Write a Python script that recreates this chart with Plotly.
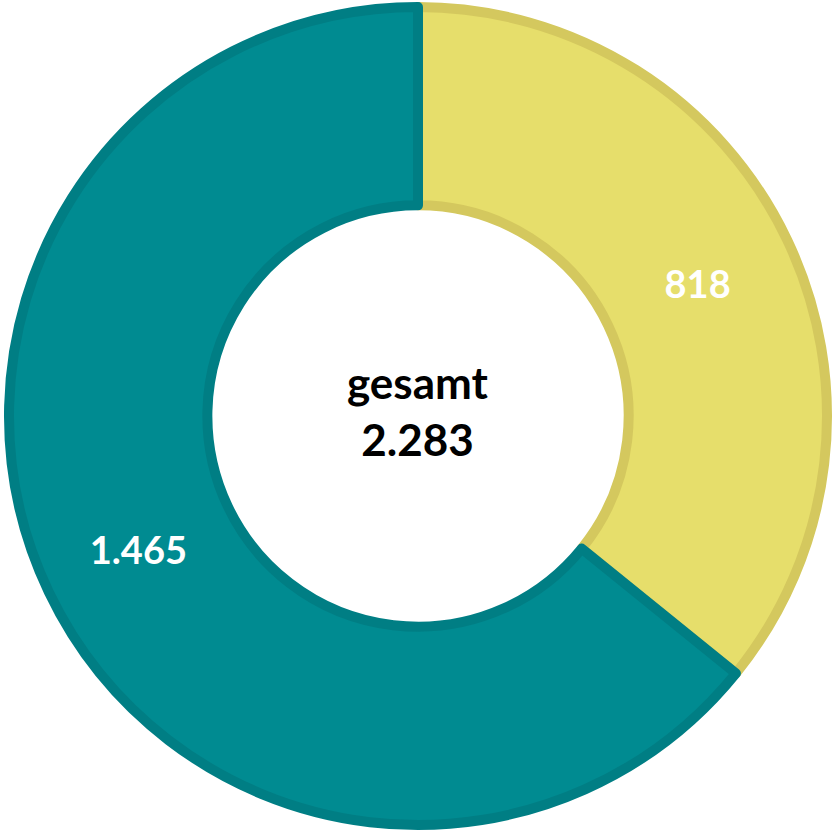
"""Donut chart: gesamt 2.283."""

import plotly.graph_objects as go

labels = ["A", "B"]
values = [818, 1465]
fill_colors = ["#E6DE6B", "#008B91"]
line_colors = ["#D4C85E", "#007E84"]

total = sum(values)
total_text = f"{total:,}".replace(",", ".")

fig = go.Figure(
    go.Pie(
        labels=labels,
        values=values,
        hole=0.515,
        sort=False,
        direction="clockwise",
        rotation=0,
        marker={"colors": fill_colors, "line": {"color": line_colors, "width": 10}},
        texttemplate="<b>%{value:,}</b>",
        textposition="inside",
        insidetextorientation="horizontal",
        textfont={"family": "Lato", "size": 38, "color": "white"},
        hoverinfo="label+value",
        showlegend=False,
    )
)

fig.update_layout(
    width=836,
    height=832,
    margin={"l": 7, "r": 7, "t": 7, "b": 7},
    paper_bgcolor="white",
    plot_bgcolor="white",
    separators=",.",
    annotations=[
        {
            "text": f"<b>gesamt<br>{total_text}</b>",
            "x": 0.5,
            "y": 0.5,
            "xref": "paper",
            "yref": "paper",
            "yshift": 6,
            "showarrow": False,
            "font": {"family": "Lato", "size": 44, "color": "black"},
        }
    ],
)

fig.write_html(
    "out.html",
    config={"displayModeBar": False},
    post_script="document.body.style.margin = '0px';",
)
